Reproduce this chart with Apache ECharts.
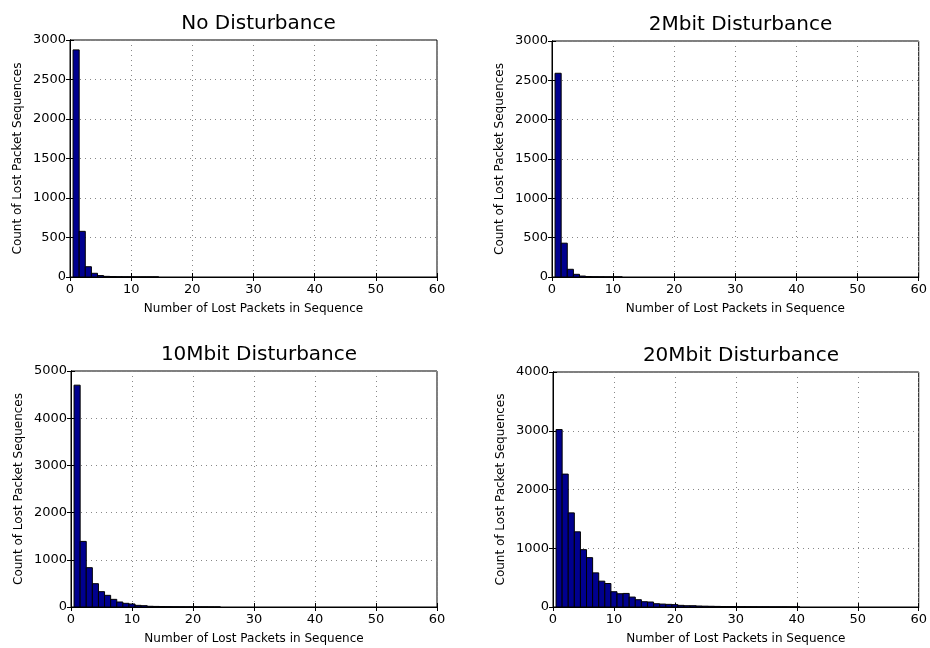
<!DOCTYPE html>
<html>
<head>
<meta charset="utf-8">
<script src="https://cdn.jsdelivr.net/npm/echarts@6/dist/echarts.min.js"></script>
<style>
html,body{margin:0;padding:0;background:#fff;}
#chart{width:930px;height:648px;}
</style>
</head>
<body>
<div id="chart"></div>
<script>
// Bin centres (number of lost packets in sequence)
const bins = [];
for (let i = 1; i <= 60; i++) bins.push(i);

const titles = ['No Disturbance', '2Mbit Disturbance', '10Mbit Disturbance', '20Mbit Disturbance'];
const yMaxes = [3000, 3000, 5000, 4000];
const yIntervals = [500, 500, 1000, 1000];
const xTicks = [0, 10, 20, 30, 40, 50, 60];

const noDisturbance = [2875, 578, 130, 47, 18, 8, 5, 3, 2, 2, 1, 1, 1, 1];
const mbit2 = [2590, 430, 98, 34, 12, 6, 3, 2, 1, 1, 1];
const mbit10 = [4700, 1390, 833, 494, 325, 247, 162, 106, 78, 64, 35, 28, 15, 12, 9, 7, 5, 4, 3, 3, 2, 2, 1, 1];
const mbit20 = [3020, 2262, 1602, 1280, 976, 840, 581, 440, 400, 260, 226, 231, 169, 124, 90, 85, 56, 50, 45, 40, 28, 22, 22, 17, 14, 12, 10, 8, 7, 6, 5, 4, 4, 3, 3, 2, 2, 2, 1, 1];

const seriesValues = [noDisturbance, mbit2, mbit10, mbit20];

const grids = [
  {left: 70, top: 40, width: 367, height: 237},
  {left: 552, top: 41, width: 367, height: 236},
  {left: 71, top: 371, width: 366, height: 236},
  {left: 553, top: 372, width: 366, height: 235}
];

const FONT = 'DejaVu Sans';
const dotted = {type: [1, 4], color: '#888', width: 1};

const option = {
  animation: false,
  backgroundColor: '#fff',
  title: [],
  grid: [],
  xAxis: [],
  yAxis: [],
  series: []
};

grids.forEach((g, i) => {
  option.grid.push(Object.assign({show: true, borderColor: '#000', borderWidth: 1, backgroundColor: '#fff'}, g));
  option.title.push({
    text: titles[i],
    left: g.left + g.width / 2,
    top: g.top - 31,
    textAlign: 'center',
    textStyle: {fontFamily: FONT, fontSize: 20, fontWeight: 'normal', color: '#000'}
  });
  // bottom x axis
  option.xAxis.push({
    type: 'value', gridIndex: i, min: 0, max: 60, interval: 10,
    name: 'Number of Lost Packets in Sequence', nameLocation: 'middle', nameGap: 26,
    nameTextStyle: {fontFamily: FONT, fontSize: 12, color: '#000'},
    axisLine: {show: true, lineStyle: {color: '#000', width: 1}},
    axisTick: {show: true, inside: true, length: 4, lineStyle: {color: '#000'}},
    axisLabel: {fontFamily: FONT, fontSize: 13, color: '#000', margin: 6,
      formatter: v => xTicks.indexOf(v) >= 0 ? String(v) : ''},
    splitLine: {show: true, lineStyle: dotted}
  });
  // top x axis (box ticks)
  option.xAxis.push({
    type: 'value', gridIndex: i, min: 0, max: 60, interval: 10, position: 'top',
    axisLine: {show: true, lineStyle: {color: '#000', width: 1}},
    axisTick: {show: true, inside: true, length: 4, lineStyle: {color: '#000'}},
    axisLabel: {show: false}, splitLine: {show: false}
  });
  // left y axis
  option.yAxis.push({
    type: 'value', gridIndex: i, min: 0, max: yMaxes[i], interval: yIntervals[i],
    name: 'Count of Lost Packet Sequences', nameLocation: 'middle', nameGap: 46,
    nameTextStyle: {fontFamily: FONT, fontSize: 12, color: '#000'},
    axisLine: {show: true, lineStyle: {color: '#000', width: 1}},
    axisTick: {show: true, inside: true, length: 4, lineStyle: {color: '#000'}},
    axisLabel: {fontFamily: FONT, fontSize: 13, color: '#000', margin: 4,
      formatter: v => String(v)},
    splitLine: {show: true, lineStyle: dotted}
  });
  // right y axis (box ticks)
  option.yAxis.push({
    type: 'value', gridIndex: i, min: 0, max: yMaxes[i], interval: yIntervals[i], position: 'right',
    axisLine: {show: true, lineStyle: {color: '#000', width: 1}},
    axisTick: {show: true, inside: true, length: 4, lineStyle: {color: '#000'}},
    axisLabel: {show: false}, splitLine: {show: false}
  });

  const data = seriesValues[i].map((v, k) => [bins[k], v]);
  option.series.push({
    type: 'custom',
    xAxisIndex: i * 2,
    yAxisIndex: i * 2,
    clip: true,
    data: data,
    renderItem: function (params, api) {
      const x = api.value(0), y = api.value(1);
      const p0 = api.coord([x - 0.5, y]);
      const p1 = api.coord([x + 0.5, 0]);
      return {
        type: 'rect',
        shape: {x: p0[0], y: p0[1], width: p1[0] - p0[0], height: p1[1] - p0[1]},
        style: {fill: '#00008F', stroke: '#000', lineWidth: 1}
      };
    }
  });
});

const chart = echarts.init(document.getElementById('chart'), null, {renderer: 'canvas'});
chart.setOption(option);
</script>
</body>
</html>
